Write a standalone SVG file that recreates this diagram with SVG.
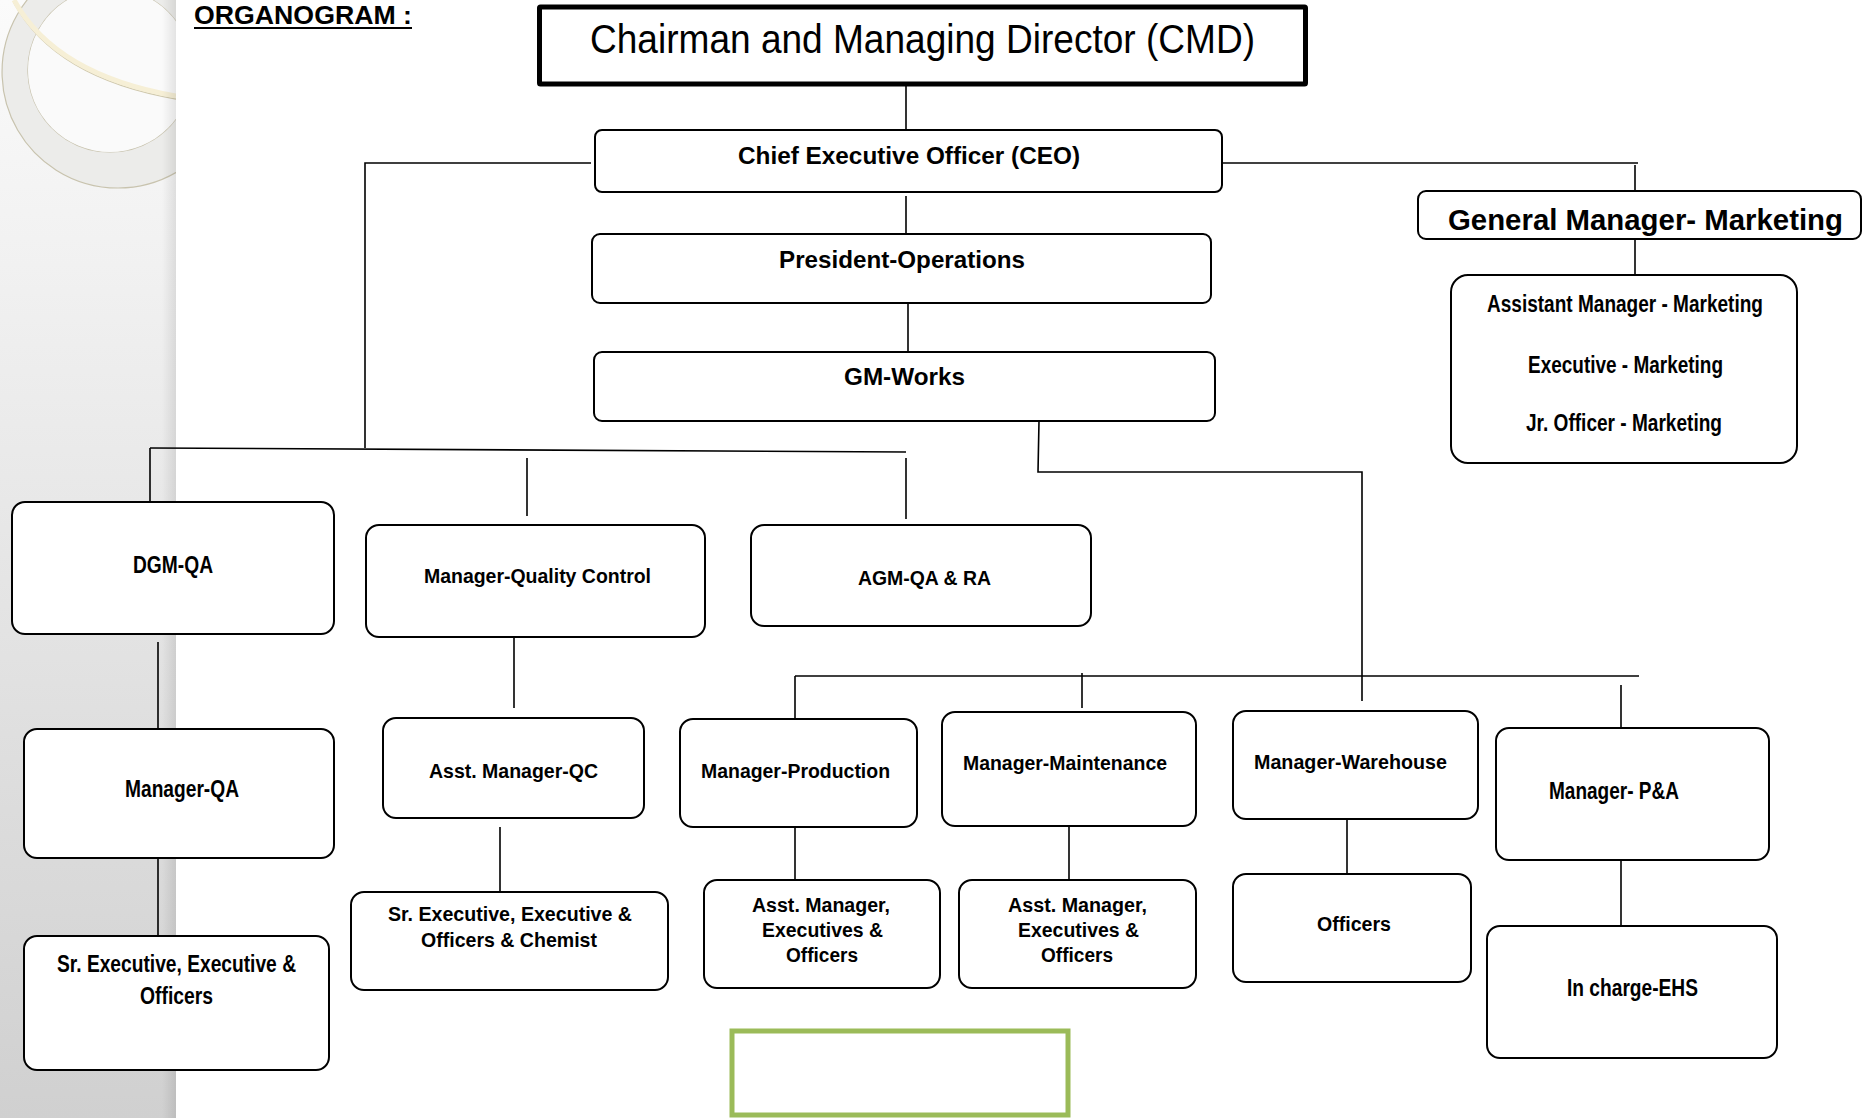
<svg xmlns="http://www.w3.org/2000/svg" width="1864" height="1118" viewBox="0 0 1864 1118">
<defs>
<linearGradient id="strip" x1="0" y1="0" x2="0" y2="1">
<stop offset="0" stop-color="#fbfbfb"/>
<stop offset="0.45" stop-color="#e8e8e8"/>
<stop offset="1" stop-color="#d0d0d0"/>
</linearGradient>
<linearGradient id="edge" x1="0" y1="0" x2="1" y2="0">
<stop offset="0" stop-color="#000" stop-opacity="0"/>
<stop offset="1" stop-color="#000" stop-opacity="0.09"/>
</linearGradient>
<clipPath id="sc"><rect x="0" y="0" width="176" height="1118"/></clipPath>
</defs>
<style>
.box{fill:#fff;stroke:#000;stroke-width:2}
.c{stroke:#000;stroke-width:1.6;fill:none}
.t{font-family:"Liberation Sans",Arial,sans-serif;font-weight:bold;fill:#000}
</style>
<rect x="0" y="0" width="1864" height="1118" fill="#fff"/>
<g id="background">
<rect x="0" y="0" width="176" height="1118" fill="url(#strip)"/>
<g clip-path="url(#sc)">
<path d="M118 -44 A116 116 0 1 0 118.1 -44 Z M110 -12 A82 82 0 1 1 109.9 -12 Z" fill="#ececea" fill-rule="evenodd" stroke="#c8c3ae" stroke-width="1.2"/>
<circle cx="110" cy="70" r="82" fill="#fafafa"/>
<path d="M14 0 Q55 75 176 96" fill="none" stroke="#cfc8ad" stroke-width="1.5" transform="translate(0,3)"/>
<path d="M14 0 Q55 75 176 96" fill="none" stroke="#f6efd6" stroke-width="5"/>
</g>
<rect x="162" y="0" width="14" height="1118" fill="url(#edge)"/>
</g>
<g id="title">
<text class="t" x="194" y="24" font-size="26" textLength="218" lengthAdjust="spacingAndGlyphs">ORGANOGRAM :</text>
<line x1="194" y1="28" x2="412" y2="28" stroke="#000" stroke-width="2"/>
</g>
<g id="connectors">
<line class="c" x1="906" y1="86" x2="906" y2="130"/>
<polyline class="c" points="591,163 365,163 365,448"/>
<polyline class="c" points="1222,163 1638,163"/>
<line class="c" x1="1635" y1="165" x2="1635" y2="191"/>
<line class="c" x1="1635" y1="239" x2="1635" y2="275"/>
<line class="c" x1="906" y1="196" x2="906" y2="234"/>
<line class="c" x1="908" y1="303" x2="908" y2="352"/>
<line class="c" x1="150" y1="448" x2="906" y2="452"/>
<line class="c" x1="150" y1="448" x2="150" y2="502"/>
<line class="c" x1="527" y1="458" x2="527" y2="516"/>
<line class="c" x1="906" y1="458" x2="906" y2="519"/>
<polyline class="c" points="1039,421 1038,472 1362,472 1362,701"/>
<line class="c" x1="795" y1="676" x2="1639" y2="676"/>
<line class="c" x1="795" y1="676" x2="795" y2="719"/>
<line class="c" x1="1082" y1="673" x2="1082" y2="708"/>
<line class="c" x1="1621" y1="685" x2="1621" y2="728"/>
<line class="c" x1="158" y1="642" x2="158" y2="729"/>
<line class="c" x1="158" y1="858" x2="158" y2="936"/>
<line class="c" x1="514" y1="638" x2="514" y2="708"/>
<line class="c" x1="500" y1="827" x2="500" y2="892"/>
<line class="c" x1="795" y1="827" x2="795" y2="880"/>
<line class="c" x1="1069" y1="826" x2="1069" y2="880"/>
<line class="c" x1="1347" y1="819" x2="1347" y2="874"/>
<line class="c" x1="1621" y1="860" x2="1621" y2="926"/>
</g>
<g id="cmd">
<rect x="539.5" y="7" width="766" height="77" fill="#fff" stroke="#000" stroke-width="5" rx="1"/>
<text x="590" y="53" font-family="'Liberation Sans',Arial,sans-serif" font-size="41" textLength="665" lengthAdjust="spacingAndGlyphs">Chairman and Managing Director (CMD)</text>
</g>
<g id="ceo">
<rect class="box" x="595" y="130" width="627" height="62" rx="7"/>
<text class="t" x="738" y="164" font-size="23" textLength="342" lengthAdjust="spacingAndGlyphs">Chief Executive Officer (CEO)</text>
</g>
<g id="president">
<rect class="box" x="592" y="234" width="619" height="69" rx="8"/>
<text class="t" x="779" y="268" font-size="24" textLength="246" lengthAdjust="spacingAndGlyphs">President-Operations</text>
</g>
<g id="gmworks">
<rect class="box" x="594" y="352" width="621" height="69" rx="8"/>
<text class="t" x="844" y="385" font-size="24" textLength="121" lengthAdjust="spacingAndGlyphs">GM-Works</text>
</g>
<g id="gm-marketing">
<rect class="box" x="1418" y="191" width="443" height="48" rx="8"/>
<text class="t" x="1448" y="230" font-size="29" textLength="395" lengthAdjust="spacingAndGlyphs">General Manager- Marketing</text>
</g>
<g id="marketing-staff">
<rect class="box" x="1451" y="275" width="346" height="188" rx="17"/>
<text class="t" x="1487" y="312" font-size="23" textLength="276" lengthAdjust="spacingAndGlyphs">Assistant Manager - Marketing</text>
<text class="t" x="1528" y="373" font-size="23" textLength="195" lengthAdjust="spacingAndGlyphs">Executive - Marketing</text>
<text class="t" x="1526" y="431" font-size="23" textLength="196" lengthAdjust="spacingAndGlyphs">Jr. Officer - Marketing</text>
</g>
<g id="dgm-qa">
<rect class="box" x="12" y="502" width="322" height="132" rx="13"/>
<text class="t" x="133" y="573" font-size="24" textLength="80" lengthAdjust="spacingAndGlyphs">DGM-QA</text>
</g>
<g id="manager-qc">
<rect class="box" x="366" y="525" width="339" height="112" rx="13"/>
<text class="t" x="424" y="583" font-size="21" textLength="227" lengthAdjust="spacingAndGlyphs">Manager-Quality Control</text>
</g>
<g id="agm-qa-ra">
<rect class="box" x="751" y="525" width="340" height="101" rx="13"/>
<text class="t" x="858" y="585" font-size="21" textLength="133" lengthAdjust="spacingAndGlyphs">AGM-QA &amp; RA</text>
</g>
<g id="manager-qa">
<rect class="box" x="24" y="729" width="310" height="129" rx="13"/>
<text class="t" x="125" y="797" font-size="24" textLength="114" lengthAdjust="spacingAndGlyphs">Manager-QA</text>
</g>
<g id="qa-staff">
<rect class="box" x="24" y="936" width="305" height="134" rx="13"/>
<text class="t" x="57" y="972" font-size="23" textLength="239" lengthAdjust="spacingAndGlyphs">Sr. Executive, Executive &amp;</text>
<text class="t" x="140" y="1004" font-size="23" textLength="73" lengthAdjust="spacingAndGlyphs">Officers</text>
</g>
<g id="asst-manager-qc">
<rect class="box" x="383" y="718" width="261" height="100" rx="13"/>
<text class="t" x="429" y="778" font-size="21" textLength="169" lengthAdjust="spacingAndGlyphs">Asst. Manager-QC</text>
</g>
<g id="qc-staff">
<rect class="box" x="351" y="892" width="317" height="98" rx="13"/>
<text class="t" x="388" y="921" font-size="21" textLength="244" lengthAdjust="spacingAndGlyphs">Sr. Executive, Executive &amp;</text>
<text class="t" x="421" y="947" font-size="21" textLength="176" lengthAdjust="spacingAndGlyphs">Officers &amp; Chemist</text>
</g>
<g id="manager-production">
<rect class="box" x="680" y="719" width="237" height="108" rx="13"/>
<text class="t" x="701" y="778" font-size="20" textLength="189" lengthAdjust="spacingAndGlyphs">Manager-Production</text>
</g>
<g id="manager-maintenance">
<rect class="box" x="942" y="712" width="254" height="114" rx="13"/>
<text class="t" x="963" y="770" font-size="20" textLength="204" lengthAdjust="spacingAndGlyphs">Manager-Maintenance</text>
</g>
<g id="manager-warehouse">
<rect class="box" x="1233" y="711" width="245" height="108" rx="13"/>
<text class="t" x="1254" y="769" font-size="21" textLength="193" lengthAdjust="spacingAndGlyphs">Manager-Warehouse</text>
</g>
<g id="manager-pa">
<rect class="box" x="1496" y="728" width="273" height="132" rx="13"/>
<text class="t" x="1549" y="799" font-size="23" textLength="130" lengthAdjust="spacingAndGlyphs">Manager- P&amp;A</text>
</g>
<g id="production-staff">
<rect class="box" x="704" y="880" width="236" height="108" rx="13"/>
<text class="t" x="752" y="912" font-size="20" textLength="138" lengthAdjust="spacingAndGlyphs">Asst. Manager,</text>
<text class="t" x="762" y="937" font-size="20" textLength="121" lengthAdjust="spacingAndGlyphs">Executives &amp;</text>
<text class="t" x="786" y="962" font-size="20" textLength="72" lengthAdjust="spacingAndGlyphs">Officers</text>
</g>
<g id="maintenance-staff">
<rect class="box" x="959" y="880" width="237" height="108" rx="13"/>
<text class="t" x="1008" y="912" font-size="20" textLength="139" lengthAdjust="spacingAndGlyphs">Asst. Manager,</text>
<text class="t" x="1018" y="937" font-size="20" textLength="121" lengthAdjust="spacingAndGlyphs">Executives &amp;</text>
<text class="t" x="1041" y="962" font-size="20" textLength="72" lengthAdjust="spacingAndGlyphs">Officers</text>
</g>
<g id="warehouse-officers">
<rect class="box" x="1233" y="874" width="238" height="108" rx="13"/>
<text class="t" x="1317" y="931" font-size="20" textLength="74" lengthAdjust="spacingAndGlyphs">Officers</text>
</g>
<g id="incharge-ehs">
<rect class="box" x="1487" y="926" width="290" height="132" rx="13"/>
<text class="t" x="1567" y="996" font-size="23" textLength="131" lengthAdjust="spacingAndGlyphs">In charge-EHS</text>
</g>
<g id="green-box">
<rect x="732" y="1031" width="336" height="84" fill="none" stroke="#9bbb59" stroke-width="5"/>
</g>
</svg>
